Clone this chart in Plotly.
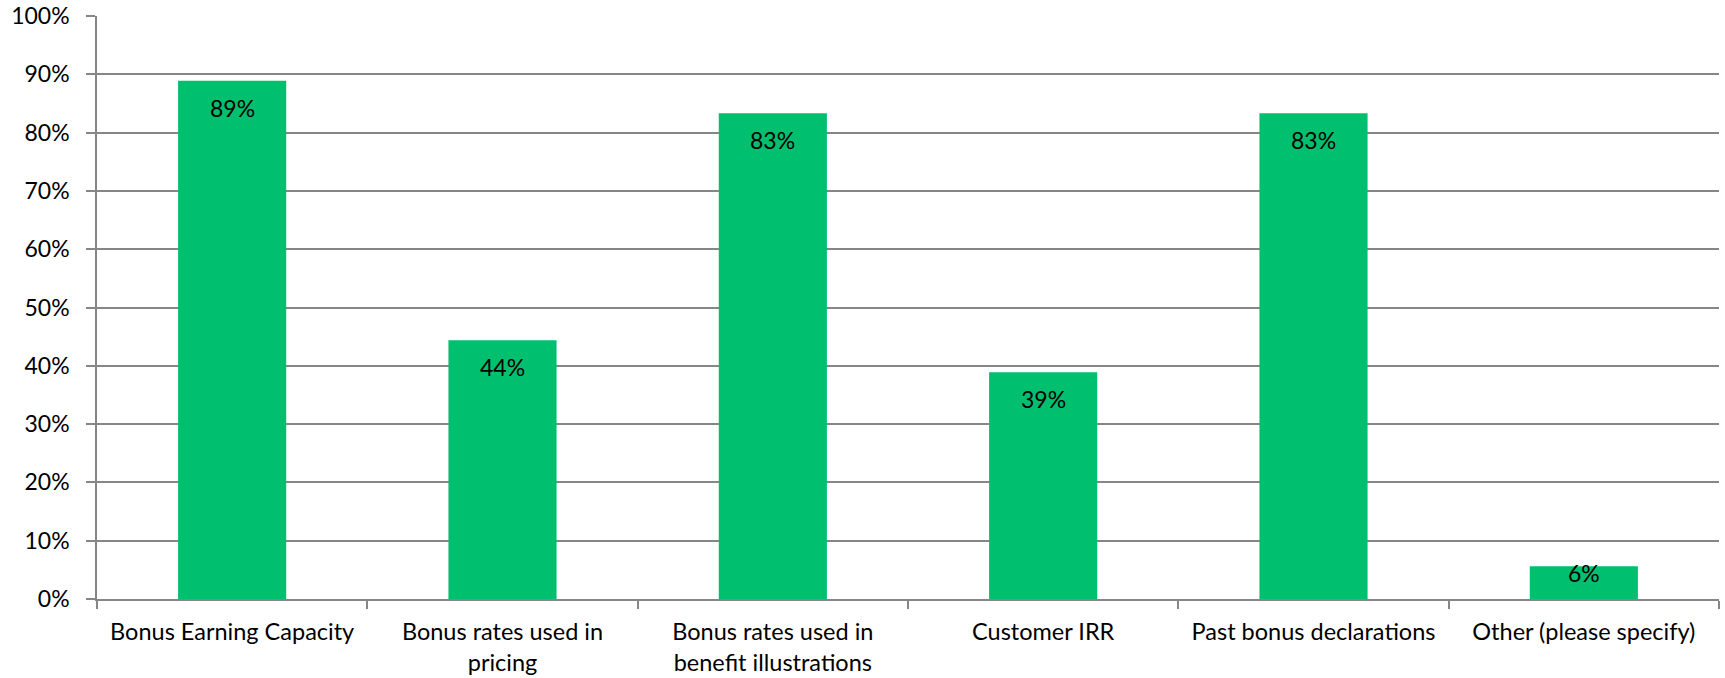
import plotly.graph_objects as go

# Survey responses: share of respondents using each measure
categories = [
    "Bonus Earning Capacity",
    "Bonus rates used in<br>pricing",
    "Bonus rates used in<br>benefit illustrations",
    "Customer IRR",
    "Past bonus declarations",
    "Other (please specify)",
]
shares = [0.889, 0.444, 0.833, 0.389, 0.833, 0.056]
y_ticks = [i / 10 for i in range(11)]

W, H = 1725, 678
M = dict(l=97, r=6, t=16, b=79)
plot_h = H - M["t"] - M["b"]

FONT = "Lato"
FS = 24
GREEN = "#00BF6F"
GRID = "#868686"

fig = go.Figure(
    go.Bar(
        x=categories,
        y=shares,
        width=0.4,
        marker=dict(color=GREEN, line=dict(width=0)),
        hoverinfo="skip",
    )
)

# value labels placed just inside the top of each bar
for cat, v in zip(categories, shares):
    bar_px = v * plot_h
    shift = -min(27, bar_px - 26)
    fig.add_annotation(
        x=cat, y=v, yref="y", xref="x",
        text=f"{v:.0%}", showarrow=False,
        yanchor="middle", yshift=shift,
        font=dict(family=FONT, size=FS - 1, color="#000000"),
    )

fig.update_layout(
    width=W, height=H,
    margin=M,
    paper_bgcolor="white",
    plot_bgcolor="white",
    showlegend=False,
    bargap=0.6,
    font=dict(family=FONT, size=FS, color="#000000"),
)
fig.update_yaxes(
    range=[0, 1],
    tickvals=y_ticks,
    tickformat=".0%",
    tickfont=dict(size=FS - 1),
    showgrid=True, gridcolor=GRID, gridwidth=1.5,
    showline=True, linecolor=GRID, linewidth=1.5,
    ticks="outside", ticklen=9, tickcolor=GRID, tickwidth=1.5,
    ticklabelstandoff=12,
    zeroline=False,
    automargin=False,
)
fig.update_xaxes(
    showline=True, linecolor=GRID, linewidth=1.5,
    ticks="outside", tickson="boundaries", ticklen=8, tickcolor=GRID, tickwidth=1.5,
    ticklabelstandoff=11,
    tickfont=dict(size=FS - 0.5),
    showgrid=False,
    automargin=False,
)

fig.write_html("out.html")
